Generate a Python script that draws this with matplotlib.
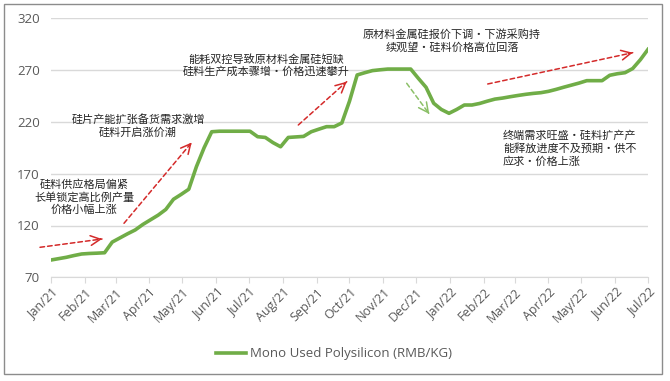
import matplotlib
matplotlib.use("Agg")
import matplotlib.pyplot as plt
import matplotlib.dates as mdates
import matplotlib.patches as patches
import pandas as pd

plt.rcParams['font.family'] = ['Open Sans', 'Noto Sans CJK SC', 'DejaVu Sans']

# weekly price of mono used polysilicon, RMB/KG
dates = pd.date_range("2021-01-01", periods=79, freq="7D")
price = [
    86.7, 88.0, 89.3, 91.0, 92.5, 93.0, 93.3, 93.7, 104.0, 108.0,
    112.0, 115.7, 121.0, 125.5, 130.0, 135.5, 145.3, 150.0, 155.0, 176.8,
    195.0, 210.5, 211.0, 211.0, 211.0, 211.0, 211.0, 205.7, 205.0, 200.0,
    196.0, 205.0, 205.5, 206.0, 210.5, 213.0, 215.4, 215.4, 219.0, 240.0,
    265.3, 267.5, 269.5, 270.3, 271.0, 271.0, 271.0, 271.0, 262.0, 253.4,
    238.0, 232.0, 228.3, 232.0, 236.3, 236.3, 237.8, 240.0, 242.0, 243.0,
    244.3, 245.5, 246.6, 247.5, 248.2, 249.5, 251.4, 253.5, 255.5, 257.5,
    259.8, 259.8, 259.8, 265.0, 266.5, 267.5, 271.5, 280.0, 290.0,
]
series_name = "Mono Used Polysilicon (RMB/KG)"
y_ticks = [70, 120, 170, 220, 270, 320]

notes = [
    "硅料供应格局偏紧\n长单锁定高比例产量\n价格小幅上涨",
    "硅片产能扩张备货需求激增\n硅料开启涨价潮",
    "能耗双控导致原材料金属硅短缺\n硅料生产成本骤增・价格迅速攀升",
    "原材料金属硅报价下调・下游采购持\n续观望・硅料价格高位回落",
    "终端需求旺盛・硅料扩产产\n能释放进度不及预期・供不\n应求・价格上涨",
]

W, H = 670, 381


def fpx(x, y):
    # pixel position -> figure fraction
    return (x / W, 1 - y / H)


fig = plt.figure(figsize=(6.7, 3.81), dpi=100)
ax = fig.add_axes([51 / W, 1 - 277.3 / H, 597 / W, 259 / H])

green = "#70ad47"
ax.plot(dates, price, color=green, lw=2.6, label=series_name, solid_joinstyle="round")

ax.set_xlim(pd.Timestamp("2021-01-01"), pd.Timestamp("2022-07-01"))
ax.set_ylim(70, 320)
ax.set_yticks(y_ticks)
ax.xaxis.set_major_locator(mdates.MonthLocator())
ax.xaxis.set_major_formatter(mdates.DateFormatter("%b/%y"))
ax.grid(axis="y", color="#d9d9d9", lw=1)
ax.set_axisbelow(True)
for s in ["top", "right", "left"]:
    ax.spines[s].set_visible(False)
ax.spines["bottom"].set_color("#d9d9d9")
ax.tick_params(axis="y", length=0, labelsize=9.5, labelcolor="#595959", pad=8)
ax.tick_params(axis="x", length=4, color="#d9d9d9", labelsize=9, labelcolor="#595959", pad=2)
for lab in ax.get_xticklabels():
    lab.set_rotation(45)
    lab.set_ha("right")
    lab.set_va("top")
    lab.set_rotation_mode("anchor")

fig.legend(loc="center", bbox_to_anchor=fpx(334, 354), frameon=False,
           fontsize=9.5, labelcolor="#595959", handlelength=2.3, handletextpad=0.3)

cjk = ["Noto Sans CJK SC", "DejaVu Sans"]
txt = dict(family=cjk, fontsize=8, color="#262626", linespacing=1.25)
fig.text(*fpx(84, 197), notes[0], ha="center", va="center", **txt)
fig.text(*fpx(138, 126), notes[1], ha="center", va="center", **txt)
fig.text(*fpx(266, 65.5), notes[2], ha="center", va="center", **txt)
fig.text(*fpx(452, 41.3), notes[3], ha="center", va="center", **txt)
fig.text(*fpx(503, 148.5), notes[4], ha="left", va="center", multialignment="left", **txt)


def dashed_arrow(p0, p1, color):
    a, b = fpx(*p0), fpx(*p1)
    ax.annotate("", xy=b, xytext=a, xycoords="figure fraction",
                arrowprops=dict(arrowstyle="-", color=color, lw=1.1, ls=(0, (3, 2)),
                                shrinkA=0, shrinkB=0))
    near = (a[0] + (b[0] - a[0]) * 0.97, a[1] + (b[1] - a[1]) * 0.97)
    ax.annotate("", xy=b, xytext=near, xycoords="figure fraction",
                arrowprops=dict(arrowstyle="->,head_length=0.7,head_width=0.35",
                                color=color, lw=1.1, shrinkA=0, shrinkB=0,
                                mutation_scale=10))


red = "#d42a2a"
dashed_arrow((40, 247.3), (102, 239), red)
dashed_arrow((124, 223.3), (191.7, 142.5), red)
dashed_arrow((298.3, 125), (346.7, 81.7), red)
dashed_arrow((406.7, 83.3), (429.3, 114), "#8cc068")
dashed_arrow((487.7, 84), (632.7, 52.7), red)

fig.patches.append(patches.Rectangle(fpx(4, 374), 658 / W, 370 / H,
                                     transform=fig.transFigure, fill=False,
                                     edgecolor="#8c8c8c", lw=1))

fig.savefig("out.png", dpi=100)
